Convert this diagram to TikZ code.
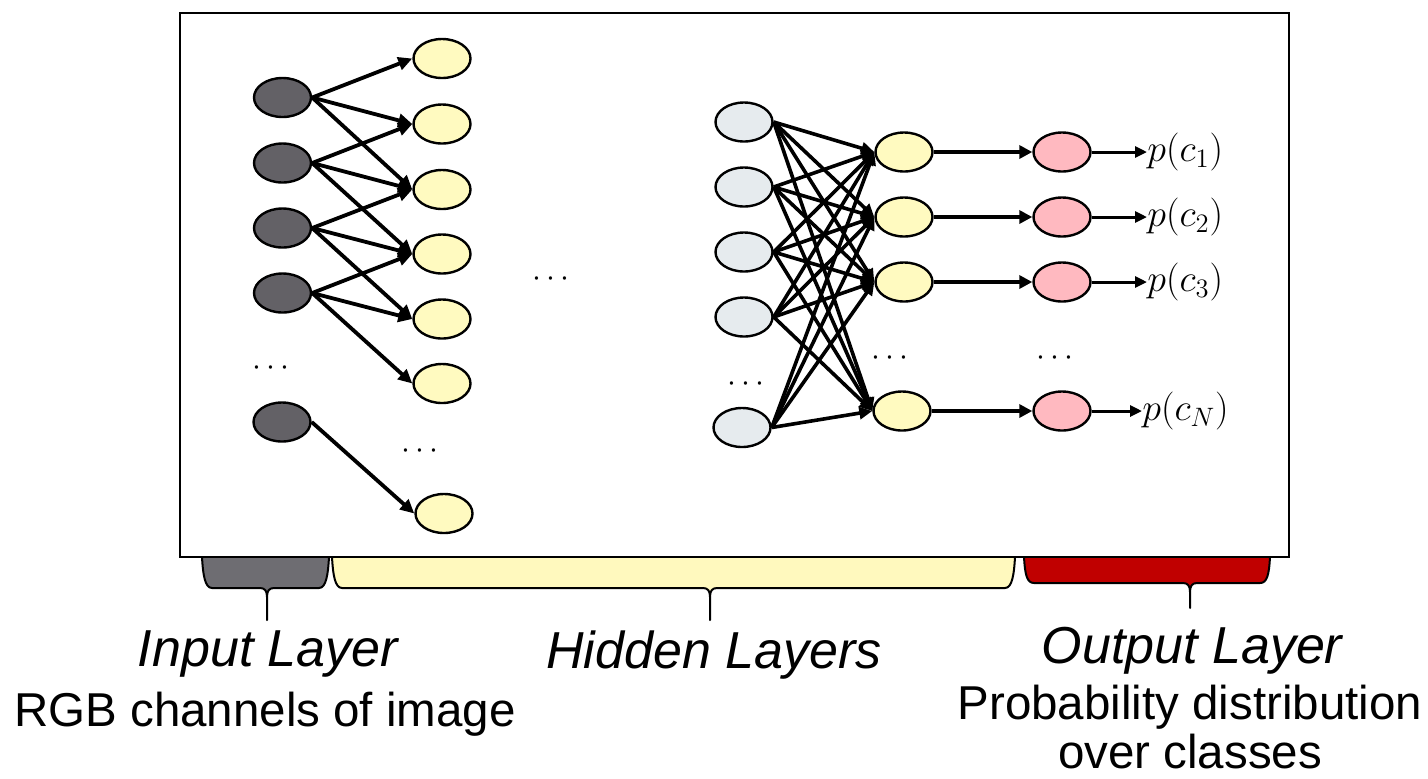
\documentclass[tikz,border=0pt]{standalone}
\usepackage{fix-cm}
\usepackage{fontspec}
\setmainfont{Liberation Sans}
\usetikzlibrary{shapes.geometric,arrows.meta}

\definecolor{inputgray}{RGB}{99,97,102}
\definecolor{hidyellow}{RGB}{255,250,192}
\definecolor{deepgray}{RGB}{230,235,238}
\definecolor{outpink}{RGB}{255,185,192}
\definecolor{bracegray}{RGB}{110,109,114}
\definecolor{braceyellow}{RGB}{255,249,190}
\definecolor{bracered}{RGB}{192,0,0}

% curly bracket under the frame: fill, left, right, tip x, bottom, tip end
\newcommand\layerbrace[6]{%
  \filldraw[fill=#1,draw=black,line width=1pt,line join=round]
    (#2,557) .. controls (#2+1,575) and (#2+3,#5) .. (#2+10,#5)
    -- (#4-7,#5) .. controls (#4-2,#5) and (#4,#5+3) .. (#4,#5+9)
    -- (#4,#6) -- (#4,#5+9)
    .. controls (#4,#5+3) and (#4+2,#5) .. (#4+7,#5)
    -- (#3-10,#5) .. controls (#3-3,#5) and (#3-1,575) .. (#3,557);}

\begin{document}
\begin{tikzpicture}[x=0.5pt,y=-0.5pt,
  neuron/.style={ellipse,draw=black,line width=1.2pt,minimum width=28.5pt,
                 minimum height=19.5pt,inner sep=0pt},
  innode/.style={neuron,fill=inputgray},
  hidnode/.style={neuron,fill=hidyellow},
  deepnode/.style={neuron,fill=deepgray},
  outnode/.style={neuron,fill=outpink},
  link/.style={line width=1.9pt,-{Triangle[length=7pt,width=6.5pt]}},
  dense/.style={line width=1.8pt,-{Triangle[length=6.5pt,width=6pt]}},
  feed/.style={line width=2pt,-{Triangle[length=6.5pt,width=6.5pt]}},
  probarrow/.style={line width=1.5pt,-{Triangle[length=6pt,width=5.5pt]}},
  prob/.style={anchor=west,inner sep=0pt,font=\fontsize{19}{23}\selectfont},
  dots/.style={anchor=base,inner sep=0pt,font=\fontsize{16}{19}\selectfont},
  title/.style={anchor=base,inner sep=0pt,font=\fontsize{26}{30}\selectfont\itshape},
  subtitle/.style={anchor=base,inner sep=0pt,font=\fontsize{23.75}{28}\selectfont}]

\useasboundingbox (0,0) rectangle (1428,778);

% layer brackets and frame
\layerbrace{bracegray}{202}{329}{267}{588}{620}
\layerbrace{braceyellow}{332}{1015}{710}{588}{620}
\layerbrace{bracered}{1024}{1270}{1190}{583}{608}
\draw[line width=1.1pt] (180,13) rectangle (1289,557);

% input layer
\foreach \y [count=\i] in {97.5,163,228,293}
  \node[innode] (i\i) at (282.5,\y) {};
\node[innode] (i5) at (282,422) {};

% first hidden layer
\foreach \y [count=\i] in {58.5,124,189.5,254,319,383.5}
  \node[hidnode] (a\i) at (442,\y) {};
\node[hidnode] (a7) at (444,513.5) {};

% local connections
\foreach \i in {1,...,4}
  \foreach \k in {0,1,2}{
    \pgfmathtruncatemacro\j{\i+\k}
    \draw[link] (i\i.east) -- (a\j.west);
  }
\draw[link] (i5.east) -- (a7.west);

% last hidden layers
\foreach \y [count=\i] in {122,187,252,317}
  \node[deepnode] (g\i) at (744,\y) {};
\node[deepnode] (g5) at (742,427.5) {};

\foreach \y [count=\i] in {152,217,282}
  \node[hidnode] (b\i) at (904,\y) {};
\node[hidnode] (b4) at (902,411) {};

\foreach \i in {1,...,5}
  \foreach \j in {1,...,4}
    \draw[dense] (g\i.east) -- (b\j.west);

% output layer
\foreach \y [count=\i] in {152,217,282,411}
  \node[outnode] (r\i) at (1062,\y) {};

\node[prob] (p1) at (1147,152) {$p(c_1)$};
\node[prob] (p2) at (1147,217) {$p(c_2)$};
\node[prob] (p3) at (1147,282) {$p(c_3)$};
\node[prob] (p4) at (1142,411) {$p(c_N)$};

\foreach \j in {1,...,4}{
  \draw[feed] (b\j.east) -- (r\j.west);
  \draw[probarrow] (r\j.east) -- (p\j.west);
}

% ellipses
\node[dots] (d1) at (271,375) {$\cdots$};
\node[dots] (d2) at (420,458) {$\cdots$};
\node[dots] (d3) at (551,286) {$\cdots$};
\node[dots] (d4) at (746,391) {$\cdots$};
\node[dots] (d5) at (890,365) {$\cdots$};
\node[dots] (d6) at (1055,365) {$\cdots$};

% captions
\node[title] (tin) at (268,666) {Input Layer};
\node[subtitle] (sin) at (265,726) {RGB channels of image};
\node[title] (thid) at (714,668) {Hidden Layers};
\node[title] (tout) at (1192,663) {Output Layer};
\node[subtitle] (sout1) at (1190,719) {Probability distribution};
\node[subtitle] (sout2) at (1190,768) {over classes};
\end{tikzpicture}
\end{document}
